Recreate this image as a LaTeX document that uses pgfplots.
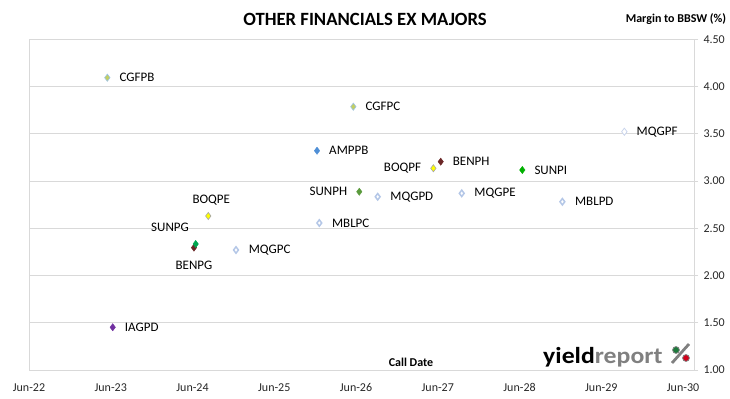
\documentclass[border=0pt]{standalone}
\usepackage{pgfplots}
\pgfplotsset{compat=1.18}
\usepackage{fontspec}
\setmainfont{Carlito}
\definecolor{gridgray}{HTML}{D9D9D9}
\definecolor{cgfill}{HTML}{C3CF62}
\definecolor{cgdraw}{HTML}{9DC3E6}
\definecolor{ampblue}{HTML}{4F8FD6}
\definecolor{boqfill}{HTML}{FFFF00}
\definecolor{boqdraw}{HTML}{A6A6A6}
\definecolor{benbrown}{HTML}{6B2727}
\definecolor{sunG}{HTML}{00A650}
\definecolor{sunH}{HTML}{5A9A3C}
\definecolor{sunI}{HTML}{00B000}
\definecolor{iagpurple}{HTML}{7030A0}
\definecolor{mqdraw}{HTML}{B4C7E7}
\definecolor{mqfdraw}{HTML}{C9D4EC}
\definecolor{logogray}{HTML}{808080}
\definecolor{logogreen}{HTML}{1E7A3C}
\definecolor{logored}{HTML}{D0021B}
\newcommand{\labfont}{\fontsize{13bp}{15bp}\selectfont}
\begin{document}
\begin{tikzpicture}
\path[use as bounding box] (0,0) rectangle (730bp,399bp);
\begin{axis}[
  at={(29bp,29bp)}, anchor=south west,
  scale only axis, width=665bp, height=330.67bp,
  xmin=0, xmax=8.134, ymin=1, ymax=4.5,
  xtick={0,1,...,8},
  xticklabels={Jun-22,Jun-23,Jun-24,Jun-25,Jun-26,Jun-27,Jun-28,Jun-29,Jun-30},
  ytick={1,1.5,...,4.5},
  ytick pos=right, yticklabel pos=right,
  xtick style={draw=none},
  tick align=outside, major tick length=4bp,
  ytick style={draw=gridgray, line width=0.75bp},
  ymajorgrids, grid style={draw=gridgray, line width=0.75bp},
  axis line style={draw=gridgray, line width=0.75bp},
  tick label style={font=\fontsize{12bp}{14bp}\selectfont, text=black!85},
  xticklabel style={yshift=-6bp},
  yticklabel style={xshift=2bp},
  /pgf/number format/assume math mode=true,
  yticklabel={\pgfmathprintnumber[fixed,fixed zerofill,precision=2]{\tick}},
  clip=false,
  every axis plot/.append style={only marks, mark=diamond*, mark size=3.6bp},
  lab/.style={nodes near coords, point meta=explicit symbolic,
     every node near coord/.append style={font=\labfont, text=black, inner sep=0pt, #1}},
  R/.style={lab={anchor=west, xshift=12bp}},
  L/.style={lab={anchor=east, xshift=-12bp}},
]
% CGF
\addplot[R, mark options={fill=cgfill, draw=cgdraw, line width=0.6bp}] coordinates {(0.958,4.094) [CGFPB]};
\addplot[R, mark options={fill=cgfill, draw=cgdraw, line width=0.6bp}] coordinates {(3.967,3.787) [CGFPC]};
% AMP
\addplot[R, mark options={fill=ampblue, draw=ampblue}] coordinates {(3.523,3.321) [AMPPB]};
% BOQ
\addplot[L, mark options={fill=boqfill, draw=boqdraw, line width=0.6bp}] coordinates {(4.946,3.135) [BOQPF]};
\addplot[lab={anchor=center, yshift=16bp, xshift=3bp}, mark options={fill=boqfill, draw=boqdraw, line width=0.6bp}] coordinates {(2.193,2.630) [BOQPE]};
% BEN
\addplot[R, mark options={fill=benbrown, draw=benbrown}] coordinates {(5.036,3.205) [BENPH]};
\addplot[lab={anchor=center, yshift=-17.3bp}, mark options={fill=benbrown, draw=benbrown}] coordinates {(2.018,2.295) [BENPG]};
% SUN
\addplot[lab={anchor=center, xshift=-25.7bp, yshift=16.3bp}, mark options={fill=sunG, draw=sunG}] coordinates {(2.039,2.334) [SUNPG]};
\addplot[L, mark options={fill=sunH, draw=sunH}] coordinates {(4.040,2.887) [SUNPH]};
\addplot[R, mark options={fill=sunI, draw=sunI}] coordinates {(6.034,3.117) [SUNPI]};
% MQG / MBL
\addplot[R, mark options={fill=white, draw=mqfdraw, line width=0.75bp}] coordinates {(7.282,3.522) [MQGPF]};
\addplot[R, mark options={fill=white, draw=mqdraw, line width=1.5bp}, mark size=3.2bp] coordinates {(4.265,2.834) [MQGPD]};
\addplot[R, mark options={fill=white, draw=mqdraw, line width=1.5bp}, mark size=3.2bp] coordinates {(5.293,2.870) [MQGPE]};
\addplot[R, mark options={fill=white, draw=mqdraw, line width=1.5bp}, mark size=3.2bp] coordinates {(6.524,2.781) [MBLPD]};
\addplot[R, mark options={fill=white, draw=mqdraw, line width=1.5bp}, mark size=3.2bp] coordinates {(3.551,2.556) [MBLPC]};
\addplot[R, mark options={fill=white, draw=mqdraw, line width=1.5bp}, mark size=3.2bp] coordinates {(2.532,2.270) [MQGPC]};
% IAG
\addplot[R, mark options={fill=iagpurple, draw=iagpurple}] coordinates {(1.024,1.452) [IAGPD]};
\end{axis}
% titles
\node[font=\bfseries\fontsize{18.7bp}{22bp}\selectfont, anchor=center] at (365bp,380bp) {OTHER FINANCIALS EX MAJORS};
\node[font=\bfseries\fontsize{12bp}{14bp}\selectfont, anchor=base, inner sep=0pt] at (676bp,376.3bp) {Margin to BBSW (\%)};
\node[font=\bfseries\fontsize{12bp}{14bp}\selectfont, anchor=base, inner sep=0pt] at (411bp,32.3bp) {Call Date};
% logo
\node[font=\bfseries\fontsize{23bp}{26bp}\selectfont, anchor=base west, inner sep=0pt] at (543bp,35.7bp) {\scalebox{1.12}[1]{yield\textcolor{logogray}{report}}};
\draw[logogray, line width=2.8bp] (672bp,36bp) -- (689bp,55bp);
\fill[logogreen, draw=logogray, line width=0.8bp] (676bp,49bp) circle (3.4bp);
\fill[logored, draw=logogray, line width=0.8bp] (686bp,41bp) circle (3.4bp);
\end{tikzpicture}
\end{document}
